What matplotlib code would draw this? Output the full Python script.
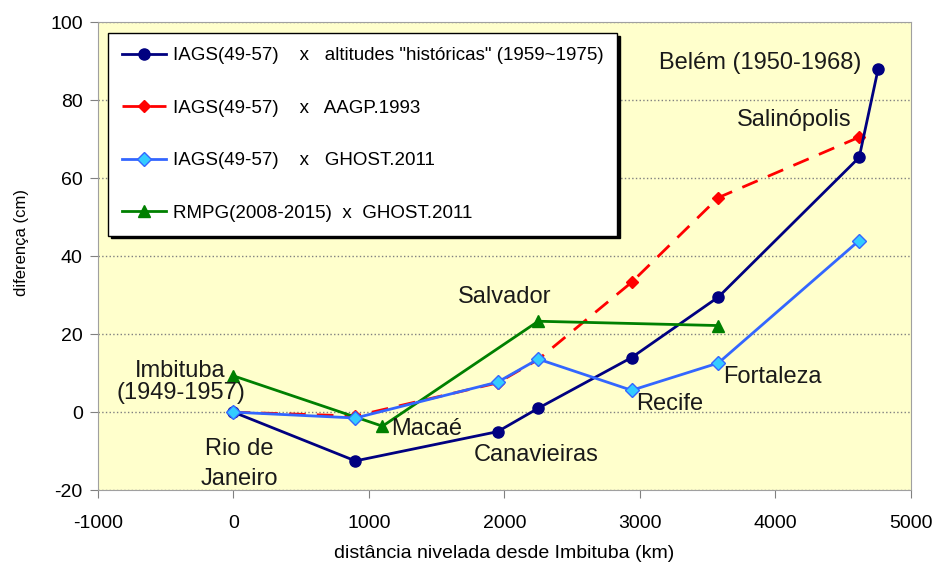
import matplotlib.pyplot as plt

plt.rcParams['font.family'] = ['Liberation Sans', 'DejaVu Sans']
plt.rcParams['axes.unicode_minus'] = False

# IAGS(49-57) x altitudes "históricas"
hist_x = [0, 900, 1950, 2250, 2940, 3580, 4620, 4760]
hist_y = [0, -12.5, -5, 1, 14, 29.5, 65.3, 88]

# IAGS(49-57) x AAGP.1993
aagp_x = [0, 900, 1950, 2250, 2940, 3580, 4620]
aagp_y = [0, -1, 7.5, 13.5, 33.3, 55, 70.5]

# IAGS(49-57) x GHOST.2011
ghost_x = [0, 900, 1950, 2250, 2940, 3580, 4620]
ghost_y = [0, -1.5, 7.7, 13.6, 5.6, 12.6, 44]

# RMPG(2008-2015) x GHOST.2011
rmpg_x = [0, 1100, 2250, 3580]
rmpg_y = [9.3, -3.6, 23.3, 22.2]

places = ['Belém (1950-1968)', 'Salinópolis', 'Salvador', 'Imbituba\n(1949-1957)',
          'Rio de\nJaneiro', 'Macaé', 'Canavieiras', 'Recife', 'Fortaleza']
place_x = [3890, 4140, 2000, -390, 45, 1424, 2236, 3218, 3982]
place_y = [89.5, 75, 29.5, 7.8, -13.3, -4.4, -11.0, 2.0, 9.0]
place_ls = [1.2, 1.2, 1.2, 1.0, 1.45, 1.2, 1.2, 1.2, 1.2]

fig = plt.figure(figsize=(9.34, 5.66), dpi=100)
ax = fig.add_axes([0.105, 0.134, 0.87, 0.827])
ax.set_facecolor('#FFFFCC')

ax.plot(hist_x, hist_y, color='#000080', lw=2, marker='o', ms=8,
        label='IAGS(49-57)    x   altitudes "históricas" (1959~1975)', zorder=3)
ax.plot(aagp_x, aagp_y, color='#FF0000', lw=2, ls=(0, (6, 4)), marker='D', ms=6,
        label='IAGS(49-57)    x   AAGP.1993', zorder=2)
ax.plot(ghost_x, ghost_y, color='#3366FF', lw=2, marker='D', ms=7,
        mfc='#33CCFF', mec='#3366FF', label='IAGS(49-57)    x   GHOST.2011', zorder=4)
ax.plot(rmpg_x, rmpg_y, color='#008000', lw=2, marker='^', ms=9,
        label='RMPG(2008-2015)  x  GHOST.2011', zorder=3)

for name, px, py, lsp in zip(places, place_x, place_y, place_ls):
    ax.text(px, py, name, fontsize=17, ha='center', va='center', color='#1a1a1a',
            linespacing=lsp, zorder=5)

ax.set_xlim(-1000, 5000)
ax.set_ylim(-20, 100)
ax.set_xticks(range(-1000, 5001, 1000))
ax.set_yticks(range(-20, 101, 20))
ax.tick_params(labelsize=14, color='#808080', length=6)
ax.tick_params(axis='x', pad=12)
ax.tick_params(axis='y', pad=5)
ax.yaxis.grid(True, ls=':', color='#808080', lw=1)
for s in ax.spines.values():
    s.set_color('#A0A0A0')

ax.set_xlabel('distância nivelada desde Imbituba (km)', fontsize=14, labelpad=9)
ax.set_ylabel('diferença (cm)', fontsize=12)
ax.yaxis.set_label_coords(-0.085, 0.53)

leg = ax.legend(loc='upper left', bbox_to_anchor=(0.0123, 0.976), borderaxespad=0,
                fontsize=13.5, labelspacing=1.88, handlelength=2.35, handletextpad=0.35,
                borderpad=0.75, fancybox=False, edgecolor='black', framealpha=1,
                shadow={'color': 'black', 'alpha': 1})
leg.get_frame().set_linewidth(1)

fig.savefig('out.png', dpi=100)
